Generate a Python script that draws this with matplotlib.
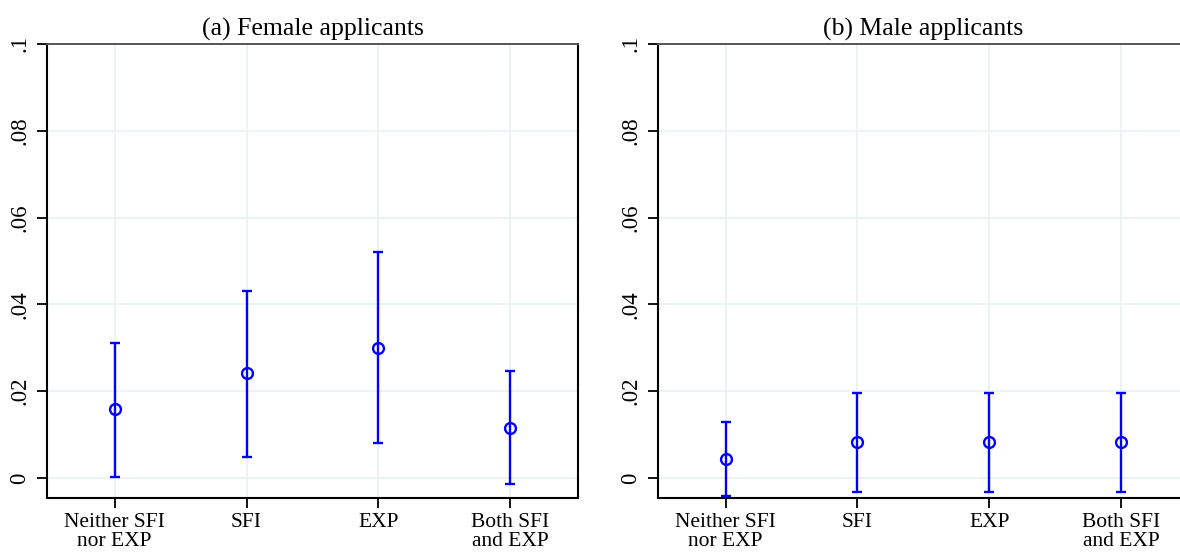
import matplotlib
matplotlib.use("Agg")
import matplotlib.pyplot as plt
import numpy as np

categories = ["Neither SFI\nnor EXP", "SFI", "EXP", "Both SFI\nand EXP"]
yticks = [0, 0.02, 0.04, 0.06, 0.08, 0.1]
ytick_labels = ["0", ".02", ".04", ".06", ".08", ".1"]

female_est = [0.0158, 0.0241, 0.0300, 0.0116]
female_lo = [0.0003, 0.0049, 0.0080, -0.0015]
female_hi = [0.0312, 0.0431, 0.0520, 0.0247]

male_est = [0.0043, 0.0082, 0.0082, 0.0082]
male_lo = [-0.0042, -0.0032, -0.0032, -0.0032]
male_hi = [0.0128, 0.0196, 0.0196, 0.0195]

titles = ["(a) Female applicants", "(b) Male applicants"]

plt.rcParams['font.family'] = ['Liberation Serif', 'DejaVu Serif']

fig = plt.figure(figsize=(11.8, 5.52), dpi=100)
W, H = 1180, 552
ax_w = 530
ax_h = 497.5 - 44
positions = [(47.5, 44), (658.4, 44)]

series = [(female_est, female_lo, female_hi), (male_est, male_lo, male_hi)]
blue = "#0000ff"
grid_c = "#eaf2f3"

for (px, py), (est, lo, hi), title in zip(positions, series, titles):
    ax = fig.add_axes([px / W, 1 - (py + ax_h) / H, ax_w / W, ax_h / H])
    x = np.arange(1, len(categories) + 1)
    est = np.array(est); lo = np.array(lo); hi = np.array(hi)
    yerr = np.vstack([est - lo, hi - est])
    ax.errorbar(x, est, yerr=yerr, fmt='o', color=blue, ecolor=blue,
                markerfacecolor='none', markeredgecolor=blue, markersize=7.8,
                markeredgewidth=1.7, elinewidth=1.7, capsize=3.9, capthick=1.7,
                zorder=3)
    ax.set_xlim(0.49, 4.51)
    ax.set_ylim(-0.0045, 0.1)
    ax.set_xticks(x)
    ax.set_xticklabels(categories, fontsize=15.5, linespacing=1.0)
    ax.set_yticks(yticks)
    ax.set_yticklabels(ytick_labels, fontsize=16.5, rotation=90, va='center')
    ax.grid(True, color=grid_c, linewidth=1.3, zorder=0)
    ax.set_axisbelow(True)
    ax.tick_params(axis='both', length=7, width=1.3, color='black')
    ax.tick_params(axis='y', pad=5.5)
    ax.tick_params(axis='x', pad=4)
    for s in ['left', 'bottom', 'right']:
        ax.spines[s].set_color('black')
        ax.spines[s].set_linewidth(1.5)
    ax.spines['top'].set_color('#555555')
    ax.spines['top'].set_linewidth(1.4)
    ax.set_title(title, fontsize=18.5, pad=6)

fig.savefig("out.png", dpi=100)
